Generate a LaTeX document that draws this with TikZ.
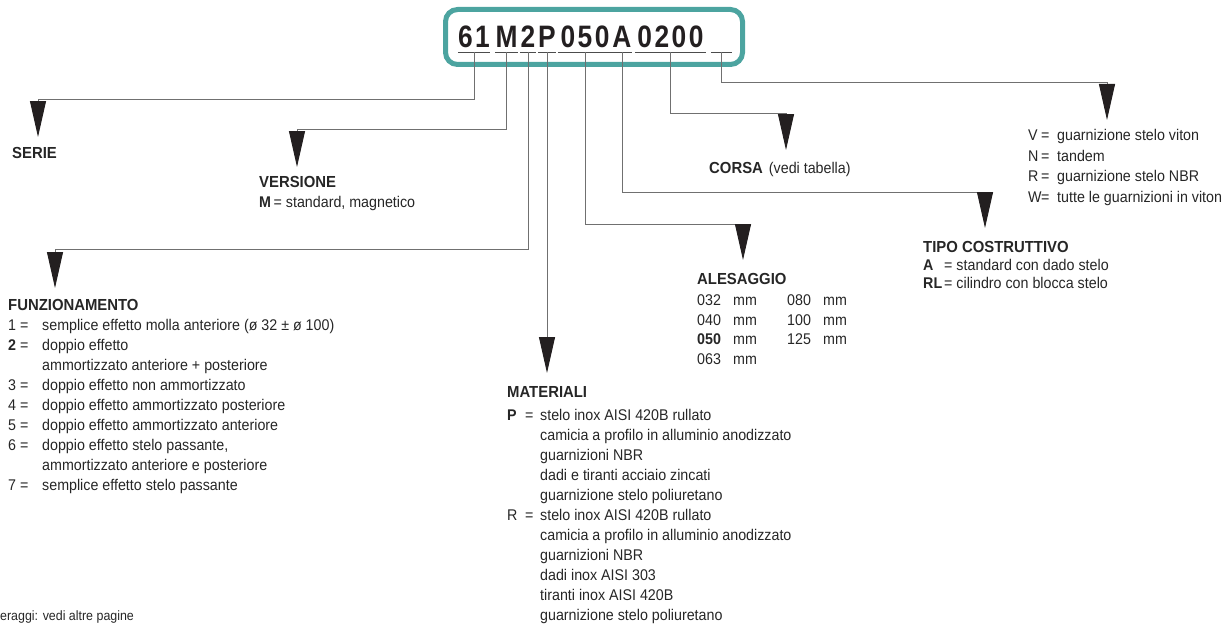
\documentclass[tikz,border=0pt]{standalone}
\usepackage{fontspec}
\setmainfont{Liberation Sans}[FakeStretch=0.92]
\newfontfamily\headfont{Liberation Sans}[FakeStretch=0.93]
\newfontfamily\codefont{Liberation Sans}[FakeStretch=0.85,LetterSpace=8]
\usetikzlibrary{arrows.meta}
\definecolor{boxteal}{RGB}{76,164,160}
\definecolor{linegray}{RGB}{112,112,112}
\definecolor{tipblack}{RGB}{35,31,32}
\newcommand{\hd}[1]{{\headfont\bfseries\fontsize{16}{20}\selectfont #1}}

\begin{document}
\begin{tikzpicture}[x=1pt,y=-1pt,
    codebox/.style={draw=boxteal, line width=5pt, rounded corners=12pt, minimum width=297pt, minimum height=55pt},
    seg/.style={anchor=south, inner xsep=0pt, inner ysep=4pt, text depth=0pt, font=\codefont\bfseries\fontsize{31}{31}\selectfont, text=tipblack},
    uline/.style={draw=black!70, line width=0.9pt},
    link/.style={draw=linegray, line width=1pt, -{Triangle[length=36pt,width=16pt,color=tipblack]}},
    lbl/.style={inner sep=0pt, align=left, font=\fontsize{15.5}{20}\selectfont, text=black!85}]
  \useasboundingbox (0,0) rectangle (1229,626);

  % code
  \node[codebox] (code) at (594,37) {};
  \node[seg, minimum width=32pt] (g61) at (474,52) {61};
  \node[seg, minimum width=21pt] (gM) at (506.5,52) {M};
  \node[seg, minimum width=16pt] (g2) at (528,52) {2};
  \node[seg, minimum width=16pt] (gP) at (547,52) {P};
  \node[seg, minimum width=54pt] (g050) at (585,52) {050};
  \node[seg, minimum width=16pt] (gA) at (622,52) {A};
  \node[seg, minimum width=71pt] (g0200) at (670.5,52) {0200};
  \node[seg, minimum width=21pt] (gopt) at (721.5,52) {};
  \foreach \g in {g61,gM,g2,gP,g050,gA,g0200,gopt}
    \draw[uline] (\g.south west) -- (\g.south east);

  % arrow tips
  \coordinate (serie tip) at (38,137);
  \coordinate (versione tip) at (297,167);
  \coordinate (funz tip) at (55,288);
  \coordinate (materiali tip) at (547,373);
  \coordinate (alesaggio tip) at (743,260);
  \coordinate (tipo tip) at (985,228);
  \coordinate (corsa tip) at (786,150);
  \coordinate (guarn tip) at (1107,120);

  % labels
  \node[lbl, anchor=west] (serie) at (12,152.5) {\hd{SERIE}};
  \node[lbl, anchor=north west] (versione) at (259,176.4) {%
    \hd{VERSIONE}\\ \textbf{M}\,= standard, magnetico};
  \node[lbl, anchor=north west] (funz) at (8,296.7) {%
    \begin{tabular}{@{}p{12pt}@{}p{22pt}@{}l@{}}
    \multicolumn{3}{@{}l@{}}{\hd{FUNZIONAMENTO}}\\
    1 & = & semplice effetto molla anteriore (ø 32 ± ø 100)\\
    \textbf{2} & = & doppio effetto\\
     & & ammortizzato anteriore + posteriore\\
    3 & = & doppio effetto non ammortizzato\\
    4 & = & doppio effetto ammortizzato posteriore\\
    5 & = & doppio effetto ammortizzato anteriore\\
    6 & = & doppio effetto stelo passante,\\
     & & ammortizzato anteriore e posteriore\\
    7 & = & semplice effetto stelo passante
    \end{tabular}};
  \node[lbl, anchor=north west] (materiali) at (507,383.7) {%
    \begin{tabular}{@{}p{18pt}@{}p{15pt}@{}l@{}}
    \multicolumn{3}{@{}l@{}}{\hd{MATERIALI}}\\[3pt]
    \textbf{P} & = & stelo inox AISI 420B rullato\\
     & & camicia a profilo in alluminio anodizzato\\
     & & guarnizioni NBR\\
     & & dadi e tiranti acciaio zincati\\
     & & guarnizione stelo poliuretano\\
    R & = & stelo inox AISI 420B rullato\\
     & & camicia a profilo in alluminio anodizzato\\
     & & guarnizioni NBR\\
     & & dadi inox AISI 303\\
     & & tiranti inox AISI 420B\\
     & & guarnizione stelo poliuretano
    \end{tabular}};
  \node[lbl, anchor=north west, font=\fontsize{15.5}{19.5}\selectfont] (alesaggio) at (697,271) {%
    \begin{tabular}{@{}p{36pt}@{}p{54pt}@{}p{36pt}@{}l@{}}
    \multicolumn{4}{@{}l@{}}{\hd{ALESAGGIO}}\\[1.5pt]
    032 & mm & 080 & mm\\
    040 & mm & 100 & mm\\
    \textbf{050} & mm & 125 & mm\\
    063 & mm & &
    \end{tabular}};
  \node[lbl, anchor=base west] (corsa) at (709,173.5) {\hd{CORSA}\hspace{6pt}(vedi tabella)};
  \node[lbl, anchor=north west, font=\fontsize{15.5}{18}\selectfont] (tipo) at (923,240) {%
    \begin{tabular}{@{}p{21pt}@{}l@{}}
    \multicolumn{2}{@{}l@{}}{\hd{TIPO COSTRUTTIVO}}\\
    \textbf{A} & = standard con dado stelo\\
    \textbf{RL} & = cilindro con blocca stelo
    \end{tabular}};
  \node[lbl, anchor=north west, font=\fontsize{15.5}{20.5}\selectfont] (guarn) at (1028,126) {%
    \begin{tabular}{@{}p{13pt}@{}p{16pt}@{}l@{}}
    V & = & guarnizione stelo viton\\
    N & = & tandem\\
    R & = & guarnizione stelo NBR\\
    W & = & tutte le guarnizioni in viton
    \end{tabular}};
  \node[lbl, anchor=base west, font=\fontsize{13.5}{16}\selectfont] (pagine) at (0,620.5) {eraggi: vedi altre pagine};

  % connectors
  \draw[link] (g61.south) -- ++(0,47) -| (serie tip);
  \draw[link] (gM.south) -- ++(0,77) -| (versione tip);
  \draw[link] (g2.south) -- ++(0,197) -| (funz tip);
  \draw[link] (gP.south) -- (materiali tip);
  \draw[link] (g050.south) -- ++(0,172) -| (alesaggio tip);
  \draw[link] (gA.south) -- ++(0,140) -| (tipo tip);
  \draw[link] (g0200.south) -- ++(0,61) -| (corsa tip);
  \draw[link] (gopt.south) -- ++(0,31) -| (guarn tip);
\end{tikzpicture}
\end{document}
